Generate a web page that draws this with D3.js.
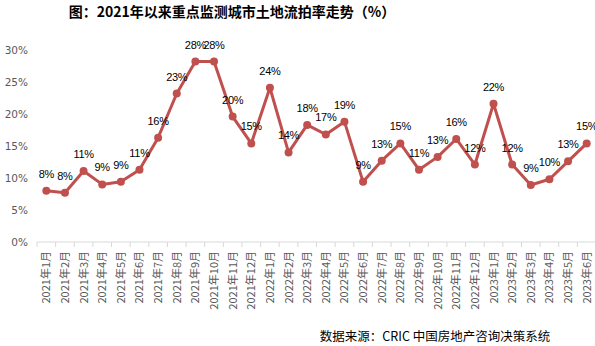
<!DOCTYPE html>
<html>
<head>
<meta charset="utf-8">
<script src="https://cdn.jsdelivr.net/npm/d3@7"></script>
<style>
  body { margin: 0; background: #fff; }
  svg { display: block; }
</style>
</head>
<body>
<svg id="vis" width="595" height="346"></svg>
<script>
// monthly land auction failure rate (%), key monitored cities
const months = [
  "2021年1月", "2021年2月", "2021年3月", "2021年4月", "2021年5月", "2021年6月",
  "2021年7月", "2021年8月", "2021年9月", "2021年10月", "2021年11月", "2021年12月",
  "2022年1月", "2022年2月", "2022年3月", "2022年4月", "2022年5月", "2022年6月",
  "2022年7月", "2022年8月", "2022年9月", "2022年10月", "2022年11月", "2022年12月",
  "2023年1月", "2023年2月", "2023年3月", "2023年4月", "2023年5月", "2023年6月"
];
const rates = [
  8.0, 7.7, 11.1, 9.0, 9.4, 11.3,
  16.3, 23.2, 28.2, 28.2, 19.6, 15.4,
  24.1, 14.0, 18.3, 16.8, 18.8, 9.4,
  12.7, 15.4, 11.3, 13.3, 16.1, 12.1,
  21.6, 12.1, 8.9, 9.8, 12.6, 15.4
];
const yTicks = [0, 5, 10, 15, 20, 25, 30];

const margin = { top: 50, right: -1, bottom: 104, left: 37 };
const translate = function(a, b) { return "translate(" + a + "," + b + ")"; };

const svg = d3.select("#vis");
const width = +svg.attr("width");
const height = +svg.attr("height");
const plotWidth = width - margin.left - margin.right;
const plotHeight = height - margin.top - margin.bottom;

const x = d3.scaleBand().domain(months).range([0, plotWidth]);
const y = d3.scaleLinear().domain([0, 30]).range([plotHeight, 0]);
const cx = function(d) { return x(d) + x.bandwidth() / 2; };

// title
svg.append("text")
  .attr("x", 232).attr("y", 17)
  .attr("text-anchor", "middle")
  .style("font-family", "'Noto Sans CJK SC', sans-serif")
  .style("font-size", "14px")
  .style("font-weight", "bold")
  .text("图：2021年以来重点监测城市土地流拍率走势（%）");

const plot = svg.append("g").attr("transform", translate(margin.left, margin.top));

// y axis: labels only
const yAxis = plot.append("g")
  .call(d3.axisLeft(y).tickValues(yTicks).tickSize(0).tickPadding(9)
    .tickFormat(function(d) { return d + "%"; }));
yAxis.select(".domain").remove();
yAxis.selectAll("text")
  .attr("fill", "#595959")
  .style("font-family", "'DejaVu Sans', sans-serif")
  .style("font-size", "10.5px");

// x axis with ticks between categories
const xAxis = plot.append("g").attr("transform", translate(0, plotHeight));
xAxis.append("line")
  .attr("x1", 0).attr("x2", plotWidth)
  .attr("stroke", "#d9d9d9");
xAxis.selectAll("line.tick")
  .data(months)
  .enter().append("line")
  .attr("class", "tick")
  .attr("x1", function(d) { return x(d); })
  .attr("x2", function(d) { return x(d); })
  .attr("y1", 0).attr("y2", 5)
  .attr("stroke", "#d9d9d9");
xAxis.selectAll("text")
  .data(months)
  .enter().append("text")
  .attr("transform", function(d) { return translate(cx(d) + 4, 9) + " rotate(-90)"; })
  .attr("text-anchor", "end")
  .attr("fill", "#595959")
  .style("font-family", "'Noto Sans CJK SC', sans-serif")
  .style("font-size", "11px")
  .text(function(d) { return d; });

const series = months.map(function(m, i) { return { month: m, rate: rates[i] }; });

const line = d3.line()
  .x(function(d) { return cx(d.month); })
  .y(function(d) { return y(d.rate); });

plot.append("path")
  .datum(series)
  .attr("d", line)
  .attr("fill", "none")
  .attr("stroke", "#C0504D")
  .attr("stroke-width", 3)
  .attr("stroke-linejoin", "round");

plot.selectAll("circle")
  .data(series)
  .enter().append("circle")
  .attr("cx", function(d) { return cx(d.month); })
  .attr("cy", function(d) { return y(d.rate); })
  .attr("r", 4)
  .attr("fill", "#C0504D");

plot.selectAll("text.value")
  .data(series)
  .enter().append("text")
  .attr("class", "value")
  .attr("x", function(d) { return cx(d.month); })
  .attr("y", function(d) { return y(d.rate) - 13; })
  .attr("text-anchor", "middle")
  .attr("fill", "#000")
  .style("font-family", "'Liberation Sans', sans-serif")
  .style("font-size", "11px")
  .style("letter-spacing", "-0.3px")
  .text(function(d) { return Math.round(d.rate) + "%"; });

// source note
svg.append("text")
  .attr("x", 435).attr("y", 341)
  .attr("text-anchor", "middle")
  .style("font-family", "'Noto Sans CJK SC', sans-serif")
  .style("font-size", "12.5px")
  .text("数据来源：CRIC 中国房地产咨询决策系统");
</script>
</body>
</html>
